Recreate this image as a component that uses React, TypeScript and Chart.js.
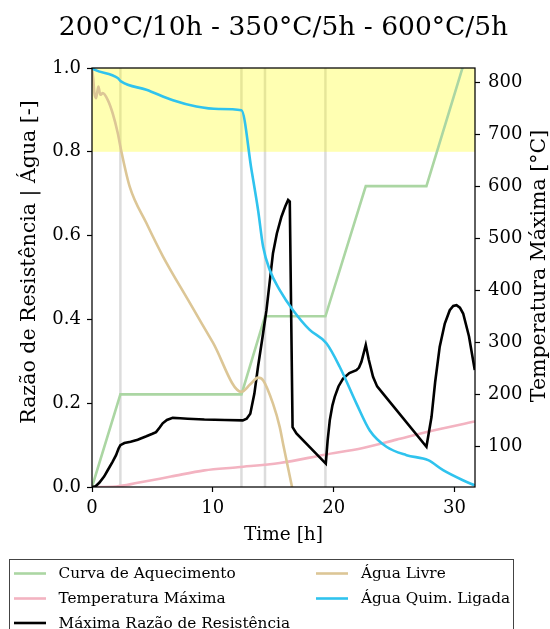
import React, { useEffect, useRef } from 'react';
import { Chart, registerables } from 'chart.js';

Chart.register(...registerables);

const FONT = "'DejaVu Serif', serif";
const TITLE = '200°C/10h - 350°C/5h - 600°C/5h';
const X_LABEL = 'Time [h]';
const Y_LABEL = 'Razão de Resistência | Água [-]';
const Y2_LABEL = 'Temperatura Máxima [°C]';

const xTicks = [0, 10, 20, 30];
const yTicks = [0, 0.2, 0.4, 0.6, 0.8, 1.0];
const y2Ticks = [100, 200, 300, 400, 500, 600, 700, 800];
const phaseTimes = [2.35, 12.37, 14.32, 19.32];
const bandRange = [0.8, 1.0];

// Curva de Aquecimento (right axis, °C)
const heatT = [0, 2.35, 12.37, 14.32, 19.32, 22.66, 27.68, 31.7];
const heatV = [22, 200, 200, 350, 350, 600, 600, 906];

// Temperatura Máxima (right axis, °C)
const tmaxT = [0, 2.0, 3.78, 6.54, 9.3, 12.06, 15.54, 19.26, 22.43, 25.2, 27.96, 31.68];
const tmaxV = [22, 23, 30, 42, 54, 60, 68, 84, 97, 113, 129, 148];

// Máxima Razão de Resistência (left axis)
const ratioT = [0, 0.3, 0.6, 1.0, 1.3, 1.7, 1.99, 2.2, 2.35, 2.68, 3.2, 3.78, 4.5, 5.0, 5.3, 5.6, 5.85, 6.2, 6.68, 7.3, 7.92, 9.3, 11.0, 12.48, 12.8, 13.1, 13.44, 13.74, 14.1, 14.44, 14.98, 15.3, 15.68, 16.0, 16.23, 16.37, 16.6, 16.92, 19.35, 19.5, 19.68, 19.9, 20.09, 20.4, 20.78, 21.3, 21.88, 22.1, 22.3, 22.66, 22.9, 23.26, 23.6, 24.09, 27.68, 28.1, 28.4, 28.78, 29.2, 29.61, 29.9, 30.17, 30.45, 30.72, 31.2, 31.68];
const ratioV = [0, 0.002, 0.01, 0.025, 0.04, 0.06, 0.076, 0.092, 0.1, 0.105, 0.108, 0.113, 0.121, 0.127, 0.131, 0.142, 0.152, 0.16, 0.165, 0.164, 0.163, 0.161, 0.16, 0.159, 0.163, 0.175, 0.223, 0.287, 0.355, 0.422, 0.558, 0.605, 0.645, 0.67, 0.685, 0.681, 0.143, 0.128, 0.056, 0.11, 0.159, 0.195, 0.215, 0.24, 0.259, 0.272, 0.279, 0.285, 0.299, 0.339, 0.305, 0.263, 0.24, 0.223, 0.096, 0.167, 0.25, 0.335, 0.39, 0.422, 0.432, 0.434, 0.428, 0.414, 0.36, 0.279];

// Água Livre (left axis)
const freeT = [0, 0.1, 0.2, 0.33, 0.45, 0.53, 0.69, 0.89, 1.3, 1.71, 2.13, 2.4, 3.12, 4.5, 5.88, 8.0, 10.0, 12.37, 13.1, 13.74, 14.16, 14.98, 15.54, 15.81, 16.5, 16.7];
const freeV = [1.0, 0.975, 0.94, 0.928, 0.945, 0.956, 0.936, 0.94, 0.924, 0.892, 0.845, 0.805, 0.717, 0.63, 0.55, 0.444, 0.345, 0.227, 0.245, 0.261, 0.255, 0.199, 0.143, 0.104, 0.008, -0.02];

// Água Quim. Ligada (left axis)
const boundT = [0, 0.2, 2.13, 2.4, 4.5, 6.7, 8.64, 10.5, 12.37, 13.2, 13.75, 14.16, 14.71, 15.54, 16.64, 18.02, 19.4, 20.5, 21.89, 22.99, 24.37, 26.03, 27.82, 29.06, 30.7, 31.68];
const boundV = [1.0, 0.996, 0.976, 0.968, 0.948, 0.923, 0.908, 0.902, 0.899, 0.757, 0.66, 0.574, 0.518, 0.47, 0.422, 0.375, 0.343, 0.287, 0.199, 0.135, 0.096, 0.076, 0.064, 0.04, 0.016, 0.004];

const pts = (xs: number[], ys: number[]) => xs.map((x, i) => ({ x, y: ys[i] }));

const decorPlugin = {
  id: 'decor',
  beforeDatasetsDraw(chart: any) {
    const { ctx, chartArea: a, scales } = chart;
    ctx.save();
    ctx.beginPath();
    ctx.rect(a.left, a.top, a.right - a.left, a.bottom - a.top);
    ctx.clip();
    ctx.strokeStyle = 'rgba(205,205,205,0.7)';
    ctx.lineWidth = 2.5;
    phaseTimes.forEach((t) => {
      const px = scales.x.getPixelForValue(t);
      ctx.beginPath();
      ctx.moveTo(px, a.top);
      ctx.lineTo(px, a.bottom);
      ctx.stroke();
    });
    const yTop = scales.y.getPixelForValue(bandRange[1]);
    const yBot = scales.y.getPixelForValue(bandRange[0]);
    ctx.fillStyle = 'rgba(255,255,0,0.3)';
    ctx.fillRect(a.left, yTop, a.right - a.left, yBot - yTop);
    ctx.restore();
  },
  afterDraw(chart: any) {
    const { ctx, chartArea: a } = chart;
    ctx.save();
    // frame
    ctx.strokeStyle = '#000';
    ctx.lineWidth = 1.25;
    ctx.strokeRect(a.left, a.top, a.right - a.left, a.bottom - a.top);
    // title
    ctx.fillStyle = '#000';
    ctx.textAlign = 'center';
    ctx.textBaseline = 'alphabetic';
    ctx.font = `26.5px ${FONT}`;
    ctx.fillText(TITLE, (a.left + a.right) / 2, 35);
    // x label
    ctx.font = `18.5px ${FONT}`;
    ctx.fillText(X_LABEL, (a.left + a.right) / 2, 540);
    // y labels
    ctx.font = `20.5px ${FONT}`;
    ctx.textBaseline = 'middle';
    ctx.save();
    ctx.translate(30, 262);
    ctx.rotate(-Math.PI / 2);
    ctx.fillText(Y_LABEL, 0, 0);
    ctx.restore();
    ctx.save();
    ctx.translate(540, 266);
    ctx.rotate(-Math.PI / 2);
    ctx.fillText(Y2_LABEL, 0, 0);
    ctx.restore();
    // legend
    ctx.strokeStyle = '#444';
    ctx.lineWidth = 1;
    ctx.strokeRect(9.5, 559.5, 504, 100);
    const rows = [573.5, 598.5, 623];
    const lineX = [14, 316];
    const textX = [58.5, 361];
    ctx.font = `15.3px ${FONT}`;
    ctx.textAlign = 'left';
    ctx.textBaseline = 'middle';
    chart.data.datasets.forEach((ds: any, i: number) => {
      const col = i < 3 ? 0 : 1;
      const row = i < 3 ? i : i - 3;
      const y = rows[row];
      ctx.strokeStyle = ds.borderColor;
      ctx.lineWidth = 2.6;
      ctx.beginPath();
      ctx.moveTo(lineX[col], y);
      ctx.lineTo(lineX[col] + 32, y);
      ctx.stroke();
      ctx.fillStyle = '#000';
      ctx.fillText(ds.label, textX[col], y + 1);
    });
    ctx.restore();
  },
};

export default function App() {
  const ref = useRef<HTMLCanvasElement | null>(null);
  useEffect(() => {
    document.body.style.margin = '0';
    if (!ref.current) return;
    const tickFont = { family: FONT, size: 18 };
    const chart = new Chart(ref.current, {
      type: 'line',
      data: {
        datasets: [
          { label: 'Curva de Aquecimento', data: pts(heatT, heatV), yAxisID: 'y2', borderColor: '#abd6a3', borderWidth: 2.6, pointRadius: 0, tension: 0, order: 4 },
          { label: 'Temperatura Máxima', data: pts(tmaxT, tmaxV), yAxisID: 'y2', borderColor: '#f3b3c1', borderWidth: 2.6, pointRadius: 0, cubicInterpolationMode: 'monotone', order: 3 },
          { label: 'Máxima Razão de Resistência', data: pts(ratioT, ratioV), yAxisID: 'y', borderColor: '#000000', borderWidth: 2.6, pointRadius: 0, tension: 0, order: 2 },
          { label: 'Água Livre', data: pts(freeT, freeV), yAxisID: 'y', borderColor: '#dcc696', borderWidth: 2.6, pointRadius: 0, cubicInterpolationMode: 'monotone', order: 1 },
          { label: 'Água Quim. Ligada', data: pts(boundT, boundV), yAxisID: 'y', borderColor: '#2fc3ee', borderWidth: 2.6, pointRadius: 0, cubicInterpolationMode: 'monotone', order: 0 },
        ],
      } as any,
      options: {
        responsive: false,
        animation: false,
        devicePixelRatio: 1,
        layout: { padding: { top: 68, left: 0, right: 0, bottom: 102 } },
        plugins: { legend: { display: false }, title: { display: false }, tooltip: { enabled: false } },
        scales: {
          x: {
            type: 'linear',
            position: 'bottom',
            min: 0,
            max: 31.7,
            afterBuildTicks: (s: any) => { s.ticks = xTicks.map((v) => ({ value: v })); },
            afterFit: (s: any) => { s.height = 40; },
            grid: { drawOnChartArea: false, drawTicks: true, tickLength: 5, tickColor: '#000', tickWidth: 1.2 },
            border: { display: false },
            ticks: { font: tickFont, color: '#000', padding: 6, maxRotation: 0, callback: (v: any) => String(v) },
          },
          y: {
            type: 'linear',
            position: 'left',
            min: 0,
            max: 1,
            afterBuildTicks: (s: any) => { s.ticks = yTicks.map((v) => ({ value: v })); },
            afterFit: (s: any) => { s.width = 92; },
            grid: { drawOnChartArea: false, drawTicks: true, tickLength: 5, tickColor: '#000', tickWidth: 1.2 },
            border: { display: false },
            ticks: { font: tickFont, color: '#000', padding: 6, callback: (v: any) => Number(v).toFixed(1) },
          },
          y2: {
            type: 'linear',
            position: 'right',
            min: 22,
            max: 827,
            afterBuildTicks: (s: any) => { s.ticks = y2Ticks.map((v) => ({ value: v })); },
            afterFit: (s: any) => { s.width = 75; },
            grid: { drawOnChartArea: false, drawTicks: true, tickLength: 5, tickColor: '#000', tickWidth: 1.2 },
            border: { display: false },
            ticks: { font: tickFont, color: '#000', padding: 8, callback: (v: any) => String(v) },
          },
        },
      } as any,
      plugins: [decorPlugin],
    });
    return () => chart.destroy();
  }, []);
  return (
    <div style={{ position: 'absolute', left: 0, top: 0, width: 550, height: 629 }}>
      <canvas ref={ref} width={550} height={629} style={{ display: 'block' }} />
    </div>
  );
}
